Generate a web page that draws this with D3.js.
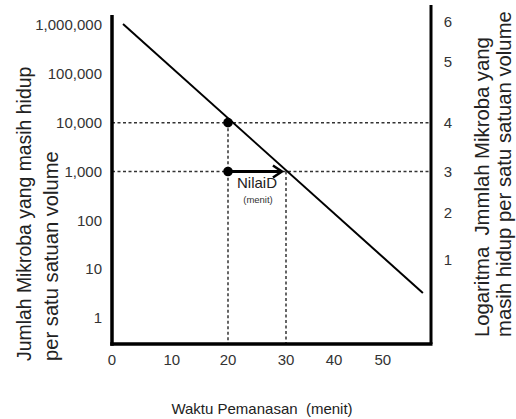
<!DOCTYPE html>
<html>
<head>
<meta charset="utf-8">
<script src="https://cdn.jsdelivr.net/npm/d3@7"></script>
<style>
  body { margin: 0; background: #fff; }
  svg { display: block; font-family: "Liberation Sans", Arial, sans-serif; }
</style>
</head>
<body>
<svg id="chart" width="516" height="419"></svg>
<script>
// survivor counts (left axis, log scale)
const countTicks = [1, 10, 100, 1000, 10000, 100000, 1000000]
// right axis: log labels and where they sit (in log10 units of the left axis)
const logLabels = [6, 5, 4, 3, 2, 1]
const logLabelAt = [6.06, 5.24, 4, 3, 2.15, 1.2]
// time axis
const timeLabels = [0, 10, 20, 30, 40, 50]
const timeLabelAt = [0, 10.3, 20, 30, 38.3, 46.7]
// survival line (minute, count)
const survivalLine = [[1.9, 1050000], [53.6, 3.25]]
// D-value marker
const dPoints = [[20, 10000], [20, 1000]]
const dArrow = [[20, 1000], [29.3, 1000]]
const guidesH = [10000, 1000]
const guidesV = [[20, 10000], [30, 1000]]

const svg = d3.select("#chart")

const x = d3.scaleLinear().domain([0, 55]).range([112, 431])
const y = d3.scaleLog().domain([1, 1e6]).range([318, 25])
const yLog = p => y(Math.pow(10, p))

const bottomY = 344
const rightX = 431

// dashed guides
svg.selectAll(".gh")
    .data(guidesH)
    .enter()
    .append("line")
    .attr("x1", x(0)).attr("x2", rightX)
    .attr("y1", d => y(d)).attr("y2", d => y(d))
    .attr("stroke", "#333").attr("stroke-width", 1.5)
    .attr("stroke-dasharray", "3,2.5")

svg.selectAll(".gv")
    .data(guidesV)
    .enter()
    .append("line")
    .attr("x1", d => x(d[0])).attr("x2", d => x(d[0]))
    .attr("y1", d => y(d[1])).attr("y2", bottomY)
    .attr("stroke", "#333").attr("stroke-width", 1.5)
    .attr("stroke-dasharray", "3,2.5")

// survival line
const line = d3.line().x(d => x(d[0])).y(d => y(d[1]))
svg.append("path")
    .datum(survivalLine)
    .attr("fill", "none")
    .attr("stroke", "#000")
    .attr("stroke-width", 2)
    .attr("d", line)

// D-value arrow
svg.append("path")
    .datum(dArrow)
    .attr("fill", "none")
    .attr("stroke", "#000")
    .attr("stroke-width", 3)
    .attr("d", line)

const tip = dArrow[1]
svg.append("path")
    .attr("fill", "none")
    .attr("stroke", "#000")
    .attr("stroke-width", 2.5)
    .attr("d", `M${x(tip[0]) - 9},${y(tip[1]) - 6}L${x(tip[0])},${y(tip[1])}L${x(tip[0]) - 9},${y(tip[1]) + 6}`)

svg.selectAll(".dot")
    .data(dPoints)
    .enter()
    .append("circle")
    .attr("cx", d => x(d[0]))
    .attr("cy", d => y(d[1]))
    .attr("r", 4.8)
    .attr("fill", "#000")

svg.append("text")
    .attr("x", 257).attr("y", 188)
    .attr("text-anchor", "middle")
    .attr("font-size", 15)
    .attr("fill", "#222")
    .text("NilaiD")
svg.append("text")
    .attr("x", 258).attr("y", 203)
    .attr("text-anchor", "middle")
    .attr("font-size", 9.5)
    .attr("fill", "#333")
    .text("(menit)")

// frame
svg.append("line")
    .attr("x1", x(0)).attr("x2", x(0))
    .attr("y1", 15).attr("y2", bottomY + 1.75)
    .attr("stroke", "#000").attr("stroke-width", 3.5)
svg.append("line")
    .attr("x1", x(0) - 1.75).attr("x2", rightX + 1.5)
    .attr("y1", bottomY).attr("y2", bottomY)
    .attr("stroke", "#000").attr("stroke-width", 3.5)
svg.append("line")
    .attr("x1", rightX).attr("x2", rightX)
    .attr("y1", 5).attr("y2", bottomY)
    .attr("stroke", "#000").attr("stroke-width", 3)

// left tick labels
svg.selectAll(".ly")
    .data(countTicks)
    .enter()
    .append("text")
    .attr("x", 102)
    .attr("y", d => y(d))
    .attr("dy", "0.35em")
    .attr("text-anchor", "end")
    .attr("font-size", 15)
    .attr("fill", "#333")
    .text(d => d3.format(",")(d))

// right tick labels
svg.selectAll(".ry")
    .data(logLabels)
    .enter()
    .append("text")
    .attr("x", 448)
    .attr("y", (d, i) => yLog(logLabelAt[i]))
    .attr("dy", "0.35em")
    .attr("text-anchor", "middle")
    .attr("font-size", 15)
    .attr("fill", "#333")
    .text(d => d)

// bottom tick labels
svg.selectAll(".bx")
    .data(timeLabels)
    .enter()
    .append("text")
    .attr("x", (d, i) => x(timeLabelAt[i]))
    .attr("y", 365)
    .attr("text-anchor", "middle")
    .attr("font-size", 15)
    .attr("fill", "#333")
    .text(d => d)

// titles
svg.append("text")
    .attr("x", 262).attr("y", 414)
    .attr("text-anchor", "middle")
    .attr("font-size", 15)
    .attr("fill", "#222")
    .style("white-space", "pre")
    .text("Waktu Pemanasan  (menit)")

const leftTitle = ["Jumlah Mikroba yang masih hidup", "per satu satuan volume"]
svg.selectAll(".lt")
    .data(leftTitle)
    .enter()
    .append("text")
    .attr("transform", (d, i) => `translate(${31 + i * 26.5},361) rotate(-90)`)
    .attr("font-size", (d, i) => i === 0 ? 19.4 : 20.2)
    .attr("fill", "#222")
    .text(d => d)

const rightTitle = ["Logaritma  Jmmlah Mikroba yang", "masih hidup per satu satuan volume"]
svg.selectAll(".rt")
    .data(rightTitle)
    .enter()
    .append("text")
    .attr("transform", (d, i) => `translate(${489 + i * 21.5},337) rotate(-90)`)
    .attr("font-size", 20.3)
    .attr("fill", "#222")
    .style("white-space", "pre")
    .text(d => d)
</script>
</body>
</html>
